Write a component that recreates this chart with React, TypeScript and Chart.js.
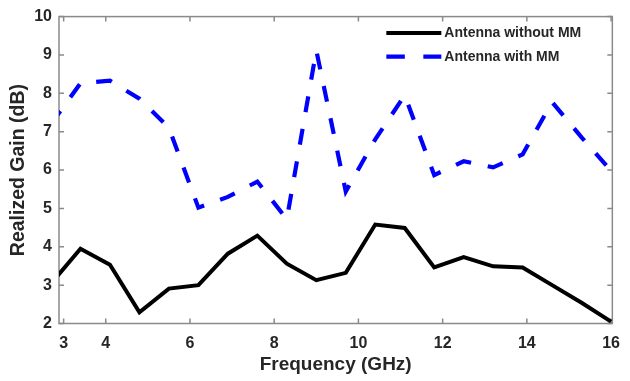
import React, { useEffect, useRef } from "react";
import { Chart, registerables } from "chart.js";

Chart.register(...registerables);

const frequency = [2.7, 3.4, 4.1, 4.8, 5.5, 6.2, 6.9, 7.6, 8.3, 9.0, 9.7, 10.4, 11.1, 11.8, 12.5, 13.2, 13.9, 14.6, 15.3, 16.0];
const gainWithoutMM = [3.04, 3.95, 3.53, 2.29, 2.91, 3.0, 3.82, 4.29, 3.56, 3.13, 3.32, 4.58, 4.49, 3.46, 3.73, 3.49, 3.46, 3.0, 2.54, 2.05];
const gainWithMM = [7.2, 8.26, 8.33, 7.86, 7.1, 5.02, 5.3, 5.7, 4.72, 9.12, 5.44, 6.8, 7.95, 5.87, 6.23, 6.07, 6.41, 7.77, 6.85, 5.98];
const xTickValues = [3, 4, 6, 8, 10, 12, 14, 16];
const seriesLabels = ["Antenna without MM", "Antenna with MM"];

const FONT = "'Liberation Sans', Arial, sans-serif";
const AXIS_COLOR = "#8a8a8a";
const TEXT_COLOR = "#262626";

const boxPlugin = {
  id: "matlabBox",
  beforeDatasetsDraw(chart: any) {
    const { ctx, chartArea: a, scales } = chart;
    ctx.save();
    ctx.strokeStyle = AXIS_COLOR;
    ctx.lineWidth = 1.5;
    ctx.strokeRect(a.left, a.top, a.right - a.left, a.bottom - a.top);
    const tl = 5;
    ctx.beginPath();
    for (const t of scales.x.ticks) {
      const px = scales.x.getPixelForValue(t.value);
      ctx.moveTo(px, a.bottom);
      ctx.lineTo(px, a.bottom - tl);
      ctx.moveTo(px, a.top);
      ctx.lineTo(px, a.top + tl);
    }
    for (const t of scales.y.ticks) {
      const py = scales.y.getPixelForValue(t.value);
      ctx.moveTo(a.left, py);
      ctx.lineTo(a.left + tl, py);
      ctx.moveTo(a.right, py);
      ctx.lineTo(a.right - tl, py);
    }
    ctx.stroke();
    ctx.restore();
  },
  afterDraw(chart: any) {
    const { ctx, chartArea: a } = chart;
    const ds = chart.data.datasets;
    ctx.save();
    const x0 = a.right - 226;
    const x1 = x0 + 55;
    const rows = [a.top + 16.5, a.top + 40];
    ds.forEach((d: any, i: number) => {
      const y = rows[i];
      ctx.beginPath();
      ctx.strokeStyle = d.borderColor;
      ctx.lineWidth = d.borderWidth;
      ctx.setLineDash(i === 1 ? [18.5, 18.5] : []);
      ctx.moveTo(x0, y);
      ctx.lineTo(x1, y);
      ctx.stroke();
      ctx.setLineDash([]);
      ctx.fillStyle = TEXT_COLOR;
      ctx.font = `bold 14px ${FONT}`;
      ctx.textAlign = "left";
      ctx.textBaseline = "middle";
      ctx.fillText(d.label, x1 + 3, y + 0.5);
    });
    ctx.restore();
  },
};

export default function App() {
  const ref = useRef<HTMLCanvasElement | null>(null);
  useEffect(() => {
    if (!ref.current) return;
    const chart = new Chart(ref.current, {
      type: "line",
      data: {
        datasets: [
          {
            label: seriesLabels[0],
            data: frequency.map((f, i) => ({ x: f, y: gainWithoutMM[i] })),
            borderColor: "#000000",
            borderWidth: 4,
            pointRadius: 0,
            tension: 0,
            clip: { left: 0, top: 0, right: 3, bottom: 3 },
          },
          {
            label: seriesLabels[1],
            data: frequency.map((f, i) => ({ x: f, y: gainWithMM[i] })),
            borderColor: "#0000ff",
            borderWidth: 4.2,
            borderDash: [16, 17],
            pointRadius: 0,
            tension: 0,
            clip: { left: 0, top: 0, right: 3, bottom: 3 },
          },
        ],
      },
      options: {
        responsive: false,
        animation: false,
        devicePixelRatio: 1,
        layout: { padding: { top: 15, right: 11, left: 0, bottom: 0 } },
        plugins: { legend: { display: false }, tooltip: { enabled: false } },
        scales: {
          x: {
            type: "linear",
            min: 2.89,
            max: 16.03,
            afterBuildTicks: (s: any) => {
              s.ticks = xTickValues.map((v) => ({ value: v }));
            },
            afterFit: (s: any) => {
              s.height = 57.5;
            },
            grid: { display: false, drawTicks: false },
            border: { display: false },
            ticks: {
              color: TEXT_COLOR,
              font: { family: FONT, size: 16, weight: "bold" },
              padding: 10,
              maxRotation: 0,
              autoSkip: false,
            },
            title: {
              display: true,
              text: "Frequency (GHz)",
              color: TEXT_COLOR,
              font: { family: FONT, size: 19, weight: "bold" },
              padding: { top: 0, bottom: 5 },
            },
          },
          y: {
            min: 2,
            max: 10,
            afterFit: (s: any) => {
              s.width = 59;
            },
            grid: { display: false, drawTicks: false },
            border: { display: false },
            ticks: {
              stepSize: 1,
              color: TEXT_COLOR,
              font: { family: FONT, size: 16, weight: "bold" },
              padding: 7,
            },
            title: {
              display: true,
              text: "Realized Gain (dB)",
              color: TEXT_COLOR,
              font: { family: FONT, size: 19.5, weight: "bold" },
              padding: { top: 7, bottom: 0 },
            },
          },
        },
      },
      plugins: [boxPlugin],
    });
    return () => chart.destroy();
  }, []);
  return (
    <div style={{ position: "absolute", left: 0, top: 0, width: 630, height: 381, background: "#fff" }}>
      <canvas ref={ref} width={630} height={381} />
    </div>
  );
}
